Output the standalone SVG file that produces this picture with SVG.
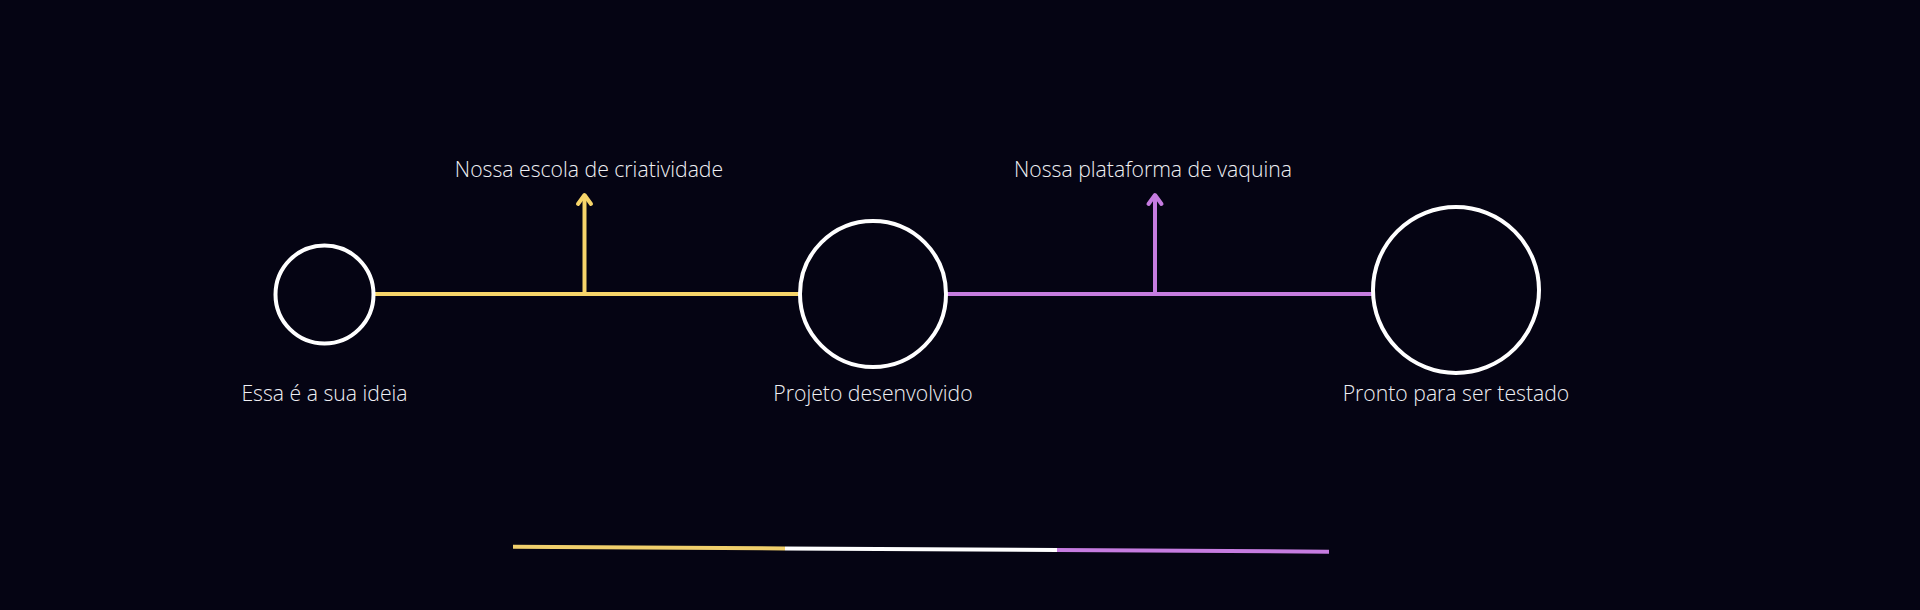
<svg xmlns="http://www.w3.org/2000/svg" width="1920" height="610" viewBox="0 0 1920 610">
<style>
.node{fill:none;stroke:#ffffff;stroke-width:4}
.lbl{font-family:"Open Sans","Liberation Sans",sans-serif;font-weight:300;font-size:21.2px;fill:#f0f0f4;text-anchor:middle}
.y{stroke:#f7d56a;stroke-width:4;fill:none}
.p{stroke:#c67ce0;stroke-width:4;fill:none}
</style>
<rect width="1920" height="610" fill="#050413"/>
<g id="connectors">
<line class="y" x1="373" y1="294" x2="800" y2="294"/>
<line class="y" x1="584.5" y1="294" x2="584.5" y2="196"/>
<polyline class="y" points="578,204 584.5,195 591,204" stroke-linecap="round" stroke-linejoin="round"/>
<line class="p" x1="946" y1="294" x2="1373" y2="294"/>
<line class="p" x1="1155" y1="294" x2="1155" y2="196"/>
<polyline class="p" points="1148.5,204 1155,195 1161.5,204" stroke-linecap="round" stroke-linejoin="round"/>
</g>
<g id="n1"><circle class="node" cx="324.5" cy="294.5" r="49"/><text class="lbl" x="324.5" y="401">Essa é a sua ideia</text></g>
<g id="n2"><circle class="node" cx="873" cy="294" r="73"/><text class="lbl" x="873" y="401">Projeto desenvolvido</text></g>
<g id="n3"><circle class="node" cx="1456" cy="290" r="83"/><text class="lbl" x="1456" y="401">Pronto para ser testado</text></g>
<g id="t1"><text class="lbl" x="589" y="177">Nossa escola de criatividade</text></g>
<g id="t2"><text class="lbl" x="1153" y="177">Nossa plataforma de vaquina</text></g>
<g id="bar">
<line x1="513" y1="546.8" x2="785" y2="548.5" stroke="#f0cf6c" stroke-width="4"/>
<line x1="785" y1="548.5" x2="1057" y2="550" stroke="#ffffff" stroke-width="4"/>
<line x1="1057" y1="550" x2="1329" y2="551.7" stroke="#c67ce0" stroke-width="4"/>
</g>
</svg>
